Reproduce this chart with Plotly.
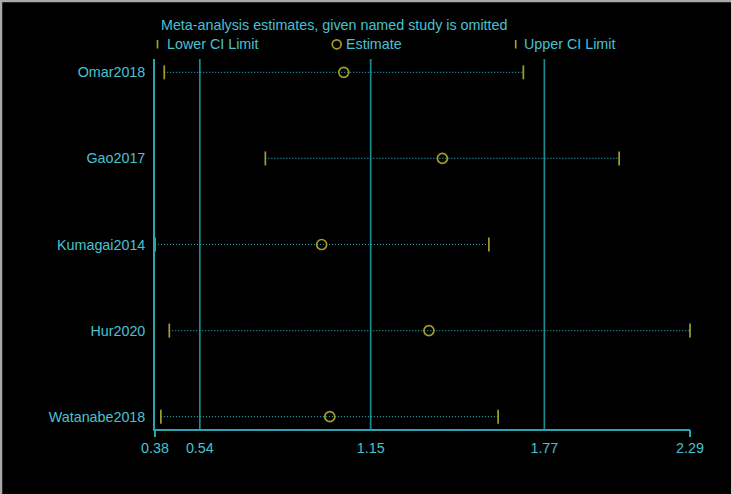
import plotly.graph_objects as go

# Leave-one-out meta-analysis: estimate and 95% CI when each study is omitted
studies = ["Omar2018", "Gao2017", "Kumagai2014", "Hur2020", "Watanabe2018"]
estimate = [1.054, 1.406, 0.975, 1.358, 1.004]
lower_ci = [0.413, 0.774, 0.380, 0.431, 0.401]
upper_ci = [1.695, 2.037, 1.572, 2.290, 1.605]

# Overall pooled estimate with its CI limits, plus axis extremes
pooled_lines = [0.54, 1.15, 1.77]
x_ticks = [0.38, 0.54, 1.15, 1.77, 2.29]
x_tick_text = ["0.38", "0.54", "1.15", "1.77", "2.29"]

W, H = 731, 494
M_L, M_R, M_T, M_B = 155, 41, 59, 65

CYAN_TXT = "#48c2d2"
AXIS_COL = "#2ba6b0"
REF_COL = "#1a8b90"
OLIVE = "#a39d2c"
DOT_COL = "#2a9ea8"
FONT = "Liberation Sans, Arial, sans-serif"
FS = 14.3

pw = W - M_L - M_R
ph = H - M_T - M_B


def px_x(p):
    return (p - M_L) / pw


def px_y(p):
    return (H - M_B - p) / ph


n = len(studies)
ypos = [n - i for i in range(n)]

fig = go.Figure()

# dotted CI spans
seg_x, seg_y = [], []
for lo, hi, y in zip(lower_ci, upper_ci, ypos):
    seg_x += [lo, hi, None]
    seg_y += [y, y, None]
fig.add_trace(go.Scatter(x=seg_x, y=seg_y, mode="lines",
                         line=dict(color=DOT_COL, width=1.2, dash="1px,2px"),
                         hoverinfo="skip", showlegend=False, cliponaxis=False))

# CI limit ticks
for vals in (lower_ci, upper_ci):
    fig.add_trace(go.Scatter(x=vals, y=ypos, mode="markers",
                             marker=dict(symbol="line-ns", size=10,
                                         line=dict(color=OLIVE, width=1.7)),
                             showlegend=False, cliponaxis=False))

# point estimates
fig.add_trace(go.Scatter(x=estimate, y=ypos, mode="markers",
                         marker=dict(symbol="circle-open", size=10,
                                     color=OLIVE, line=dict(color=OLIVE, width=1.7)),
                         showlegend=False, cliponaxis=False))

for v in pooled_lines:
    fig.add_shape(type="line", x0=v, x1=v, xref="x", y0=0, y1=1, yref="paper",
                  line=dict(color=REF_COL, width=1.7), layer="below")

# header text and key
fig.add_annotation(text="Meta-analysis estimates, given named study is omitted",
                   x=px_x(158.5), y=px_y(25.5), xref="paper", yref="paper",
                   xanchor="left", yanchor="middle", showarrow=False,
                   font=dict(family=FONT, size=FS, color=CYAN_TXT))
key_y = px_y(44.3)
for bx, label, tx in [(157.5, "Lower CI Limit", 165), (515.7, "Upper CI Limit", 522)]:
    fig.add_shape(type="line", xref="paper", yref="paper",
                  x0=px_x(bx), x1=px_x(bx), y0=px_y(40), y1=px_y(48.5),
                  line=dict(color=OLIVE, width=1.7))
    fig.add_annotation(text=label, x=px_x(tx), y=key_y, xref="paper", yref="paper",
                       xanchor="left", yanchor="middle", showarrow=False,
                       font=dict(family=FONT, size=FS, color=CYAN_TXT))
fig.add_shape(type="circle", xref="paper", yref="paper",
              x0=px_x(332.2), x1=px_x(341.2), y0=px_y(39.8), y1=px_y(48.8),
              line=dict(color=OLIVE, width=1.7))
fig.add_annotation(text="Estimate", x=px_x(343.5), y=key_y, xref="paper", yref="paper",
                   xanchor="left", yanchor="middle", showarrow=False,
                   font=dict(family=FONT, size=FS, color=CYAN_TXT))

# light frame along the top and left edges
fig.add_shape(type="line", xref="paper", yref="paper",
              x0=px_x(0), x1=px_x(W), y0=px_y(1), y1=px_y(1),
              line=dict(color="#a8a8a8", width=2.5))
fig.add_shape(type="line", xref="paper", yref="paper",
              x0=px_x(1), x1=px_x(1), y0=px_y(0), y1=px_y(H),
              line=dict(color="#a8a8a8", width=2.5))

fig.update_layout(
    width=W, height=H,
    margin=dict(l=M_L, r=M_R, t=M_T, b=M_B, pad=0),
    paper_bgcolor="black", plot_bgcolor="black",
    showlegend=False,
    font=dict(family=FONT, size=FS, color=CYAN_TXT),
    xaxis=dict(range=[x_ticks[0], x_ticks[-1]], tickvals=x_ticks, ticktext=x_tick_text,
               showgrid=False, zeroline=False, showline=True, linecolor=AXIS_COL,
               linewidth=1.7, ticks="", ticklabelstandoff=5,
               tickfont=dict(family=FONT, size=FS, color=CYAN_TXT)),
    xaxis2=dict(range=[x_ticks[0], x_ticks[-1]], overlaying="x", anchor="y",
                side="bottom", tickvals=[x_ticks[0], x_ticks[-1]], showticklabels=False,
                ticks="outside", ticklen=7, tickwidth=1.7, tickcolor=AXIS_COL,
                showgrid=False, zeroline=False, showline=False),
    yaxis=dict(range=[0.857, 5.155], tickvals=ypos, ticktext=studies,
               showgrid=False, zeroline=False, showline=True, linecolor=AXIS_COL,
               linewidth=1.7, ticks="", ticklabelstandoff=5,
               tickfont=dict(family=FONT, size=FS, color=CYAN_TXT)),
)
# invisible trace to activate the end-tick axis
fig.add_trace(go.Scatter(x=[x_ticks[0]], y=[ypos[0]], xaxis="x2", mode="markers",
                         marker=dict(opacity=0), hoverinfo="skip", showlegend=False))

fig.write_html("out.html")
